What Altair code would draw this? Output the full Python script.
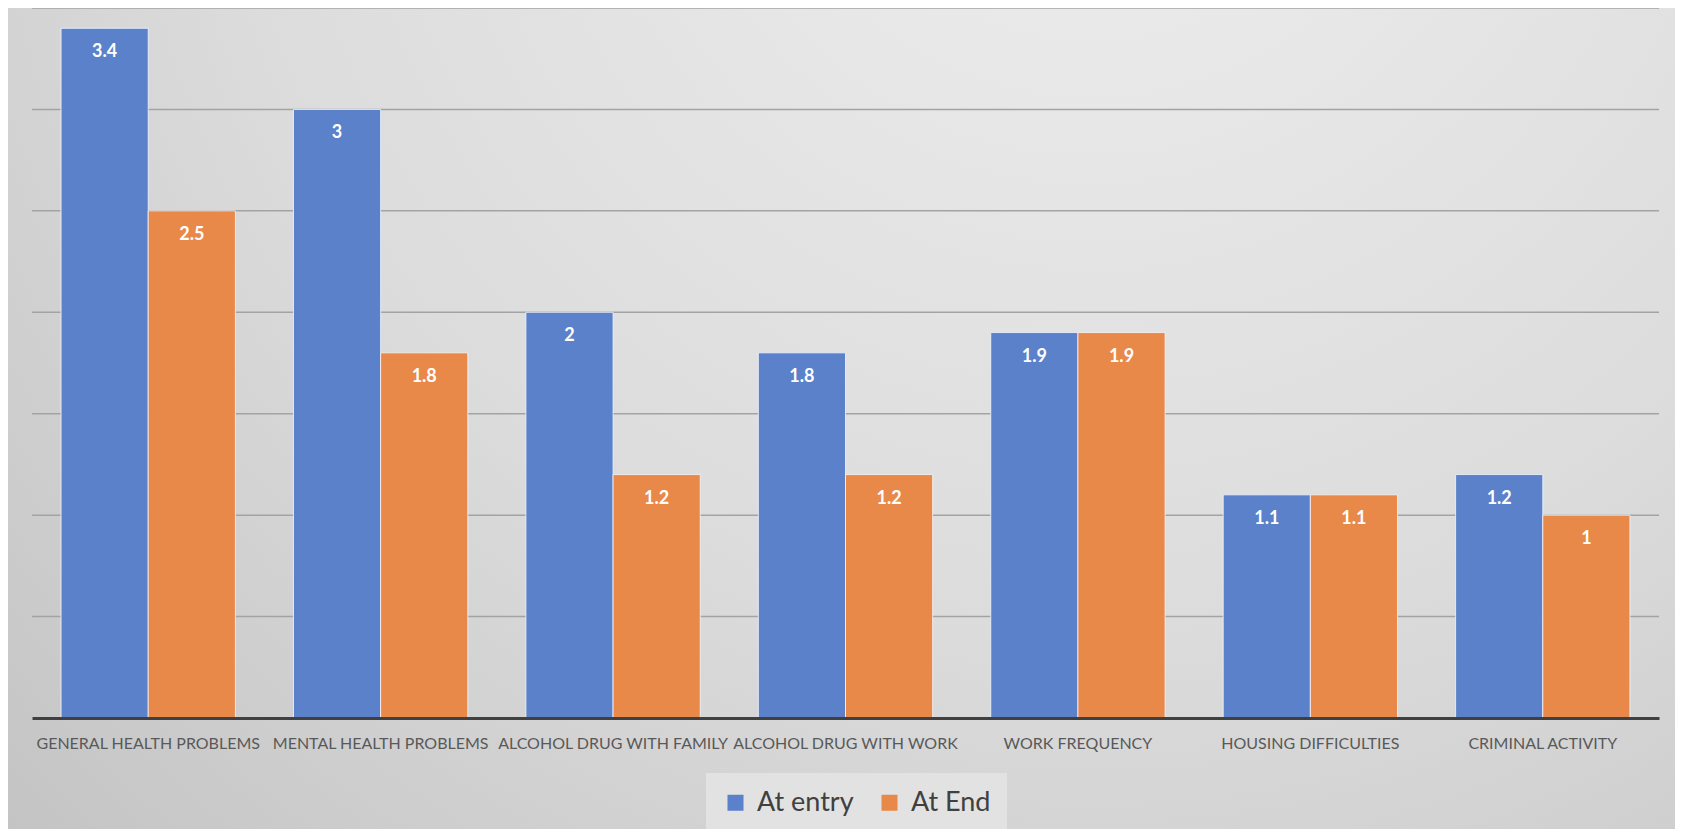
import altair as alt
import pandas as pd

categories = ["GENERAL HEALTH PROBLEMS", "MENTAL HEALTH PROBLEMS", "ALCOHOL DRUG WITH FAMILY",
              "ALCOHOL DRUG WITH WORK", "WORK FREQUENCY", "HOUSING DIFFICULTIES", "CRIMINAL ACTIVITY"]
series_names = ["At entry", "At End"]
at_entry = [3.4, 3.0, 2.0, 1.8, 1.9, 1.1, 1.2]
at_end = [2.5, 1.8, 1.2, 1.2, 1.9, 1.1, 1.0]
grid_values = [0.5, 1.0, 1.5, 2.0, 2.5, 3.0, 3.5]
colors = ["#5A81C9", "#E8894A"]

rows = []
for c, a, b in zip(categories, at_entry, at_end):
    rows.append({"category": c, "series": series_names[0], "value": a})
    rows.append({"category": c, "series": series_names[1], "value": b})
df = pd.DataFrame(rows)
grid_df = pd.DataFrame({"g": grid_values})

W, H = 1627, 710
PAD = {"left": 24, "top": 0, "right": 16, "bottom": 111}
yscale = alt.Scale(domain=[0, 3.5], nice=False, zero=True)
xscale = alt.Scale(paddingInner=0.25, paddingOuter=0.125)

bg = alt.Chart(pd.DataFrame({"k": [0]})).mark_rect(
    fill=alt.RadialGradient(
        gradient="radial",
        stops=[alt.GradientStop(offset=0, color="#efefef"),
               alt.GradientStop(offset=0.55, color="#dcdcdc"),
               alt.GradientStop(offset=1, color="#c2c2c2")],
        x1=0.65, y1=0.1, r1=0, x2=0.65, y2=0.1, r2=0.95),
    strokeWidth=0,
).encode(
    x=alt.value(-PAD["left"]), x2=alt.value(W + PAD["right"]),
    y=alt.value(0), y2=alt.value(H + PAD["bottom"]),
)

grid = alt.Chart(grid_df).mark_rule(color="#a3a3a3", strokeWidth=1.5).encode(
    y=alt.Y("g:Q", scale=yscale, axis=None)
)

base = alt.Chart(df).encode(
    x=alt.X("category:N", sort=categories, scale=xscale,
            axis=alt.Axis(title=None, labelAngle=0, labelFontSize=16,
                          labelFont="Lato", labelColor="#595959",
                          labelLimit=400, ticks=False, tickSize=0, labelPadding=17,
                          domainColor="#404040", domainWidth=3, grid=False, zindex=1)),
    xOffset=alt.XOffset("series:N", sort=series_names, scale=alt.Scale(paddingInner=0, paddingOuter=0)),
    y=alt.Y("value:Q", scale=yscale, axis=None),
)

bars = base.mark_bar(stroke="#f4f7ff", strokeWidth=1, strokeOpacity=0.8).encode(
    color=alt.Color("series:N", sort=series_names,
                    scale=alt.Scale(domain=series_names, range=colors),
                    legend=alt.Legend(title=None, orient="none", legendX=674, legendY=765,
                                      direction="horizontal", symbolType="square",
                                      symbolSize=256, symbolStrokeWidth=0,
                                      labelFontSize=27, labelFont="Lato",
                                      labelColor="#404040", columnPadding=22, labelOffset=8,
                                      padding=16, fillColor="#e2e2e2", zindex=1))
)

labels = base.mark_text(dy=24, baseline="middle", align="center", color="white",
                        fontWeight="bold", fontSize=18, font="Lato").encode(
    text=alt.Text("value:Q", format=".1~f")
)

chart = alt.layer(bg, grid, bars, labels).properties(
    width=W, height=H,
    autosize=alt.AutoSizeParams(type="none"),
    padding=PAD,
    background="#cccccc",
).configure_view(stroke=None)

chart.save("out.html", embed_options={"renderer": "svg", "actions": False})
